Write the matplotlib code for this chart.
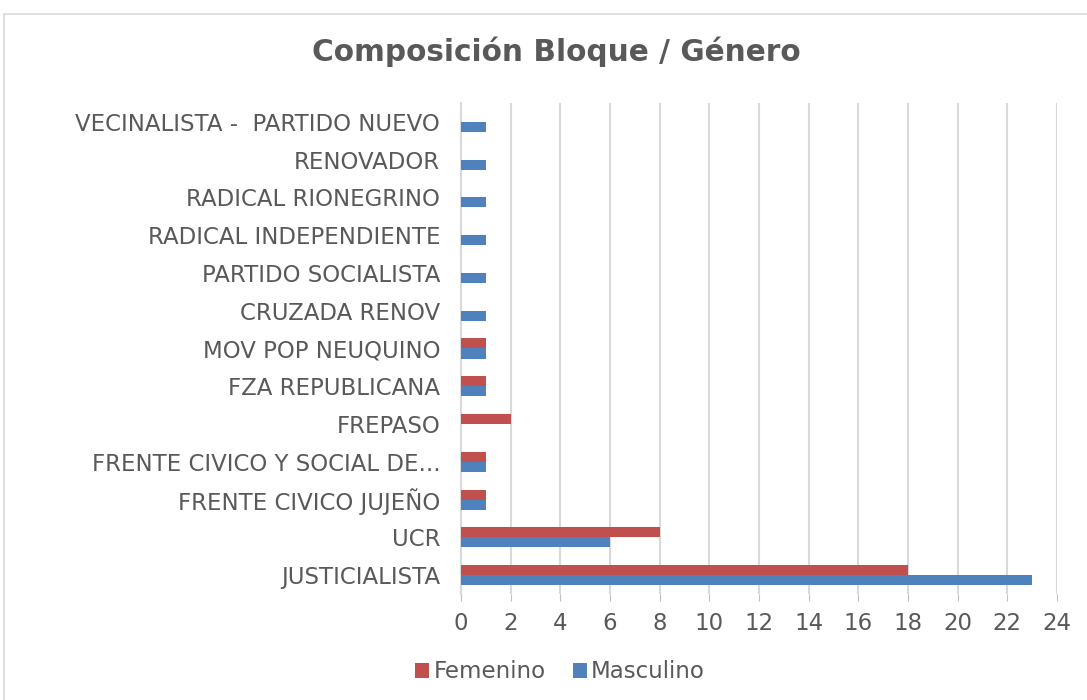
import numpy as np
import matplotlib.pyplot as plt
from matplotlib.patches import Rectangle

bloques = ['JUSTICIALISTA', 'UCR', 'FRENTE CIVICO JUJEÑO',
           'FRENTE CIVICO Y SOCIAL DE...', 'FREPASO', 'FZA REPUBLICANA',
           'MOV POP NEUQUINO', 'CRUZADA RENOV', 'PARTIDO SOCIALISTA',
           'RADICAL INDEPENDIENTE', 'RADICAL RIONEGRINO', 'RENOVADOR',
           'VECINALISTA -  PARTIDO NUEVO']
femenino = [18, 8, 1, 1, 2, 1, 1, 0, 0, 0, 0, 0, 0]
masculino = [23, 6, 1, 1, 0, 1, 1, 1, 1, 1, 1, 1, 1]
xticks = list(range(0, 25, 2))

plt.rcParams['font.family'] = ['DejaVu Sans']
txt = '#595959'

fig = plt.figure(figsize=(10.87, 7.0), dpi=100)
fig.patches.append(Rectangle((4 / 1087, -0.01), 1.1, 1 - 14 / 700 + 0.01,
                             transform=fig.transFigure, fill=False,
                             edgecolor='#D9D9D9', linewidth=1.2))
ax = fig.add_axes([461 / 1087, 1 - 594 / 700, (1057 - 461) / 1087, (594 - 103) / 700])

y = np.arange(len(bloques))
h = 0.265
ax.barh(y + h / 2, femenino, height=h, color='#C0504D', label='Femenino', zorder=3)
ax.barh(y - h / 2, masculino, height=h, color='#4F81BD', label='Masculino', zorder=3)

ax.set_xlim(0, 24)
ax.set_ylim(-0.5, len(bloques) - 0.5)
ax.set_xticks(xticks)
ax.set_yticks(y)
ax.set_yticklabels(bloques)
ax.tick_params(axis='y', length=0, pad=15, labelsize=16.5, labelcolor=txt)
ax.tick_params(axis='x', length=5, color='#BFBFBF', pad=8, labelsize=16.5, labelcolor=txt)
ax.grid(axis='x', color='#D9D9D9', linewidth=1.5, zorder=0)
for s in ['top', 'right', 'bottom']:
    ax.spines[s].set_visible(False)
ax.spines['left'].set_color('#D9D9D9')
ax.spines['left'].set_linewidth(1.5)

fig.text(556 / 1087, 1 - 52 / 700, 'Composición Bloque / Género', ha='center', va='center',
         fontsize=21.3, fontweight='bold', color=txt)

ax.legend(loc='center', bbox_to_anchor=(560 / 1087, 1 - 672 / 700), bbox_transform=fig.transFigure,
          ncol=2, frameon=False, fontsize=16.5, labelcolor=txt, handlelength=0.6,
          handleheight=0.6, handletextpad=0.2, columnspacing=1.2)

fig.savefig('out.png', dpi=100)
